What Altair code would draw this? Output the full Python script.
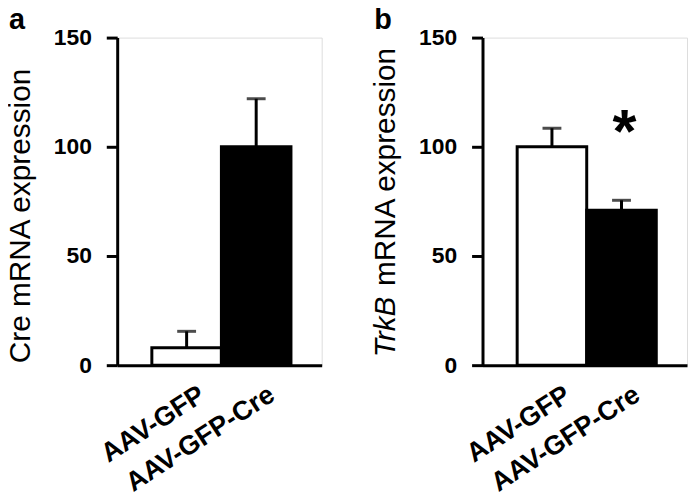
import altair as alt
import pandas as pd

# ---- data ----
groups = ["AAV-GFP", "AAV-GFP-Cre"]
fills = ["white", "black"]
cre_mean = [8, 100]
cre_err = [7.5, 22]
trkb_mean = [100, 71]
trkb_err = [8.5, 4.5]
y_ticks = [0, 50, 100, 150]
sig_group = ["AAV-GFP-Cre"]
sig_y = [112]

FONT = "Liberation Sans"
W, H = 206, 330
TITLE_SIZE = 30


def _next_pos(ypos, text):
    # approximate advance widths (em) of Liberation Sans, to chain title pieces
    widths = {"T": 0.611, "r": 0.333, "k": 0.5, "B": 0.667, " ": 0.278}
    w = sum(widths.get(c, 0.556) for c in text) + 0.278
    return ypos - w * TITLE_SIZE


def panel(means, errs, letter, title_parts, start, sig=False):
    df = pd.DataFrame({
        "group": groups,
        "mean": means,
        "upper": [m + e for m, e in zip(means, errs)],
        "fill": fills,
    })
    x = alt.X(
        "group:N", sort=groups,
        scale=alt.Scale(paddingInner=0, paddingOuter=0.47, align=0.53),
        axis=alt.Axis(
            title=None, labelAngle=-33, labelAlign="right", labelBaseline="middle",
            labelFontSize=27, labelFont=FONT, labelFontWeight="bold", labelColor="black",
            labelPadding=27, labelOffset=16, ticks=False, tickSize=0,
            domainColor="black", domainWidth=3, labelLimit=500,
        ),
    )
    y = alt.Y(
        "mean:Q", scale=alt.Scale(domain=[0, 150], nice=False),
        axis=alt.Axis(
            title=None, values=y_ticks, tickSize=11, tickWidth=3, tickColor="black",
            domainColor="black", domainWidth=3, labelFontSize=23, labelFont=FONT,
            labelFontWeight="bold", labelPadding=15, labelColor="black", grid=False,
        ),
    )
    base = alt.Chart(df)
    rule = base.mark_rule(color="black", strokeWidth=3).encode(x=x, y=y, y2="upper:Q")
    cap = base.mark_tick(color="black", thickness=3, size=19).encode(x=x, y="upper:Q")
    bars = base.mark_bar(stroke="black", strokeWidth=3).encode(
        x=x, y=y, fill=alt.Fill("fill:N", scale=None)
    )
    layers = [rule, cap, bars]

    # y-axis title (possibly mixed italic / regular)
    ypos = start
    for text, style in title_parts:
        layers.append(
            alt.Chart(pd.DataFrame({"t": [text]})).mark_text(
                angle=270, align="left", baseline="alphabetic", fontSize=TITLE_SIZE,
                font=FONT, fontStyle=style, color="black",
            ).encode(text="t:N", x=alt.value(-88), y=alt.value(ypos))
        )
        ypos = _next_pos(ypos, text)

    layers.append(
        alt.Chart(pd.DataFrame({"t": [letter]})).mark_text(
            align="left", baseline="alphabetic", fontSize=29, fontWeight="bold",
            font=FONT, color="black",
        ).encode(text="t:N", x=alt.value(-109), y=alt.value(-9))
    )

    if sig:
        sdf = pd.DataFrame({"group": sig_group, "y": sig_y, "t": ["*"]})
        layers.append(
            alt.Chart(sdf).mark_text(
                fontSize=62, fontWeight="bold", font=FONT, baseline="middle",
                color="black", dy=13, dx=3,
            ).encode(x=alt.X("group:N", sort=groups), y="y:Q", text="t:N")
        )
    return alt.layer(*layers).properties(width=W, height=H)


left = panel(cre_mean, cre_err, "a", [("Cre mRNA expression", "normal")], 328)
right = panel(trkb_mean, trkb_err, "b",
              [("TrkB", "italic"), ("mRNA expression", "normal")], 322, sig=True)

chart = alt.hconcat(left, right, spacing=162, bounds="flush").properties(
    padding={"left": -3, "top": -5, "right": 0, "bottom": 0}
).configure_view(stroke=None).configure(font=FONT)

chart.save("out.html", embed_options={"renderer": "svg", "actions": False})
